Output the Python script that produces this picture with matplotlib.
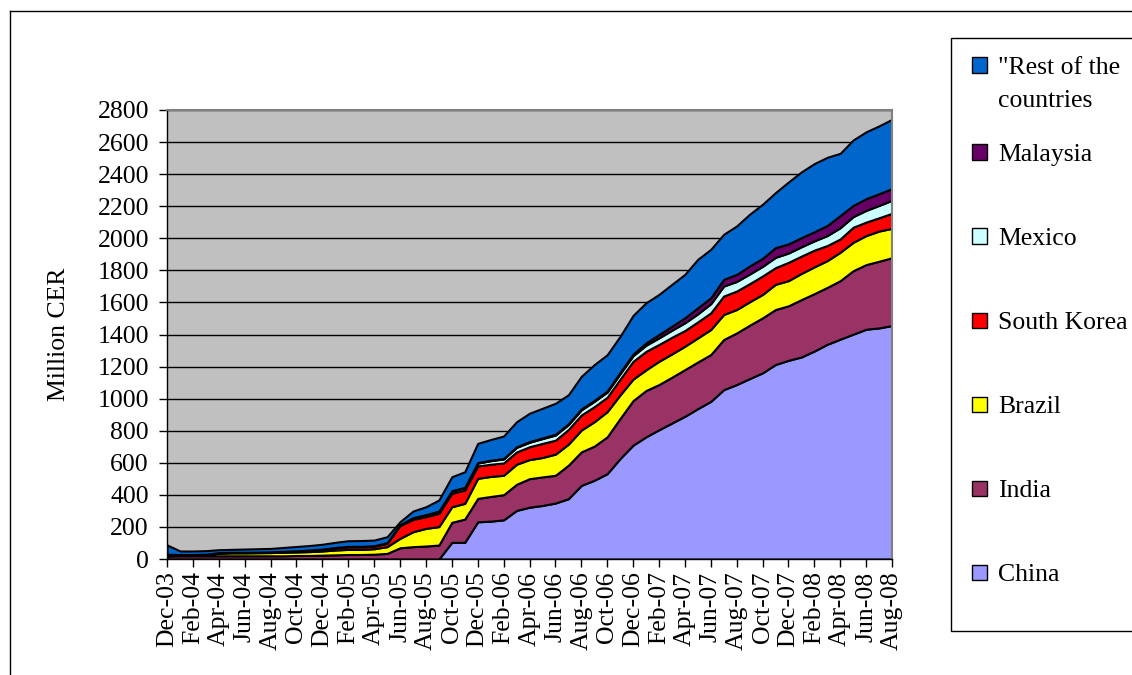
import matplotlib
matplotlib.use('Agg')
import matplotlib.pyplot as plt
from matplotlib.patches import Rectangle
from matplotlib.lines import Line2D
import numpy as np

plt.rcParams['font.family'] = ['Liberation Serif', 'DejaVu Serif']

months = ['Dec-03', 'Jan-04', 'Feb-04', 'Mar-04', 'Apr-04', 'May-04', 'Jun-04', 'Jul-04',
          'Aug-04', 'Sep-04', 'Oct-04', 'Nov-04', 'Dec-04', 'Jan-05', 'Feb-05', 'Mar-05',
          'Apr-05', 'May-05', 'Jun-05', 'Jul-05', 'Aug-05', 'Sep-05', 'Oct-05', 'Nov-05',
          'Dec-05', 'Jan-06', 'Feb-06', 'Mar-06', 'Apr-06', 'May-06', 'Jun-06', 'Jul-06',
          'Aug-06', 'Sep-06', 'Oct-06', 'Nov-06', 'Dec-06', 'Jan-07', 'Feb-07', 'Mar-07',
          'Apr-07', 'May-07', 'Jun-07', 'Jul-07', 'Aug-07', 'Sep-07', 'Oct-07', 'Nov-07',
          'Dec-07', 'Jan-08', 'Feb-08', 'Mar-08', 'Apr-08', 'May-08', 'Jun-08', 'Jul-08',
          'Aug-08']

china = [0, 0, 0, 0, 0, 0, 0, 0, 0, 0,
         0, 0, 0, 0, 0, 0, 0, 0, 0, 0,
         0, 0, 104, 104, 232, 236, 244, 303, 323, 334,
         349, 376, 459, 491, 532, 627, 710, 762, 806, 848,
         890, 938, 983, 1056, 1088, 1125, 1161, 1213, 1239, 1260,
         1297, 1339, 1371, 1402, 1433, 1441, 1456]
india = [18, 20, 20, 20, 20, 20, 20, 20, 20, 20,
         22, 22, 24, 26, 28, 28, 30, 35, 70, 77,
         81, 87, 125, 145, 146, 154, 157, 163, 178, 178,
         173, 209, 209, 213, 230, 250, 278, 289, 282, 286,
         291, 291, 292, 313, 322, 333, 343, 343, 340, 358,
         358, 355, 365, 396, 403, 416, 423]
brazil = [6, 4, 4, 6, 16, 18, 18, 19, 20, 22,
          22, 24, 26, 30, 32, 32, 34, 42, 59, 93,
          110, 115, 97, 98, 125, 125, 121, 125, 119, 121,
          132, 131, 136, 152, 157, 147, 134, 129, 145, 145,
          146, 150, 156, 156, 146, 146, 146, 157, 157, 163,
          167, 167, 177, 177, 181, 188, 183]
south_korea = [4, 3, 3, 3, 3, 3, 3, 3, 4, 5,
               6, 8, 10, 14, 16, 16, 16, 21, 80, 77,
               73, 83, 84, 83, 77, 76, 77, 77, 80, 88,
               87, 92, 94, 94, 90, 98, 111, 115, 105, 104,
               98, 100, 104, 115, 115, 113, 115, 104, 114, 108,
               104, 94, 83, 94, 84, 83, 94]
mexico = [2, 1, 1, 1, 1, 1, 1, 1, 1, 1,
          1, 2, 2, 2, 3, 3, 3, 4, 5, 10,
          12, 13, 14, 15, 18, 22, 25, 28, 28, 30,
          32, 30, 32, 33, 32, 34, 35, 38, 41, 44,
          48, 50, 57, 62, 60, 60, 60, 64, 58, 58,
          58, 62, 70, 66, 73, 77, 81]
malaysia = [0, 0, 0, 0, 0, 0, 0, 0, 0, 0,
            0, 0, 0, 0, 0, 0, 0, 0, 0, 1,
            1, 1, 2, 2, 3, 3, 3, 4, 4, 4,
            5, 5, 6, 6, 7, 8, 10, 15, 21, 25,
            31, 38, 37, 42, 44, 50, 50, 61, 57, 57,
            57, 63, 76, 70, 73, 73, 73]
rest = [58, 22, 22, 22, 18, 18, 20, 21, 21, 24,
        27, 28, 30, 32, 35, 36, 35, 37, 19, 41,
        49, 69, 87, 97, 120, 129, 140, 156, 177, 185,
        193, 181, 203, 223, 226, 225, 241, 250, 250, 261,
        271, 302, 302, 281, 302, 323, 337, 343, 386, 410,
        425, 425, 388, 408, 417, 423, 432]

series_names = ['China', 'India', 'Brazil', 'South Korea', 'Mexico', 'Malaysia',
                '"Rest of the\ncountries']
series_values = [china, india, brazil, south_korea, mexico, malaysia, rest]
series_colors = ['#9999FF', '#993366', '#FFFF00', '#FF0000', '#CCFFFF', '#660066', '#0066CC']
y_ticks = [0, 200, 400, 600, 800, 1000, 1200, 1400, 1600, 1800, 2000, 2200, 2400, 2600, 2800]

FS = 18.5
W, H = 1132, 675
fig = plt.figure(figsize=(W / 100, H / 100), dpi=100)
fig.patch.set_facecolor('white')


def fx(px):
    return px / W


def fy(py):
    return 1 - py / H


ax = fig.add_axes([fx(167), fy(559), fx(892) - fx(167), fy(110) - fy(559)])
ax.set_facecolor('#C0C0C0')

x = np.arange(len(months))
ax.stackplot(x, *series_values, colors=series_colors, edgecolor='black', linewidth=1.5)

ax.set_xlim(0, len(months) - 1)
ax.set_ylim(0, 2800)
ax.set_yticks(y_ticks)
ax.set_yticklabels([str(v) for v in y_ticks], fontsize=FS)
ax.set_xticks(x[::2])
ax.set_xticklabels(months[::2], rotation=90, fontsize=FS)
ax.tick_params(axis='y', direction='out', length=6, width=1, pad=7, colors='black')
ax.tick_params(axis='x', direction='out', length=6, width=1, pad=3, colors='black')
ax.set_axisbelow(True)
ax.yaxis.grid(True, color='black', linewidth=1.0)
ax.xaxis.grid(False)
for s in ['left', 'bottom']:
    ax.spines[s].set_color('black')
    ax.spines[s].set_linewidth(1.0)
for s in ['top', 'right']:
    ax.spines[s].set_color('#808080')
    ax.spines[s].set_linewidth(1.5)
ax.set_ylabel('Million CER', fontsize=FS, labelpad=20)

# outer chart frame
fig.add_artist(Line2D([fx(10), fx(10)], [fy(11), 0], color='black', linewidth=1.0))
fig.add_artist(Line2D([fx(10), 1], [fy(11), fy(11)], color='black', linewidth=1.0))

# legend box (extends past the right edge of the picture)
fig.add_artist(Rectangle((fx(951), fy(631)), fx(1145) - fx(951), fy(38) - fy(631),
                         facecolor='white', edgecolor='black', linewidth=1.0))
legend_y = [65, 152, 236, 320, 404, 488, 572]
LINE_H = 32.7
order = list(range(len(series_names)))[::-1]
for k, idx in enumerate(order):
    yc = legend_y[k]
    fig.add_artist(Rectangle((fx(972), fy(yc + 7.5)), fx(987) - fx(972), fy(yc - 7.5) - fy(yc + 7.5),
                             facecolor=series_colors[idx], edgecolor='black', linewidth=1.0))
    lines = series_names[idx].split('\n')
    for j, line in enumerate(lines):
        fig.text(fx(998), fy(yc + 9 + j * LINE_H), line, fontsize=FS, ha='left', va='baseline')

fig.savefig('out.png', dpi=100)
